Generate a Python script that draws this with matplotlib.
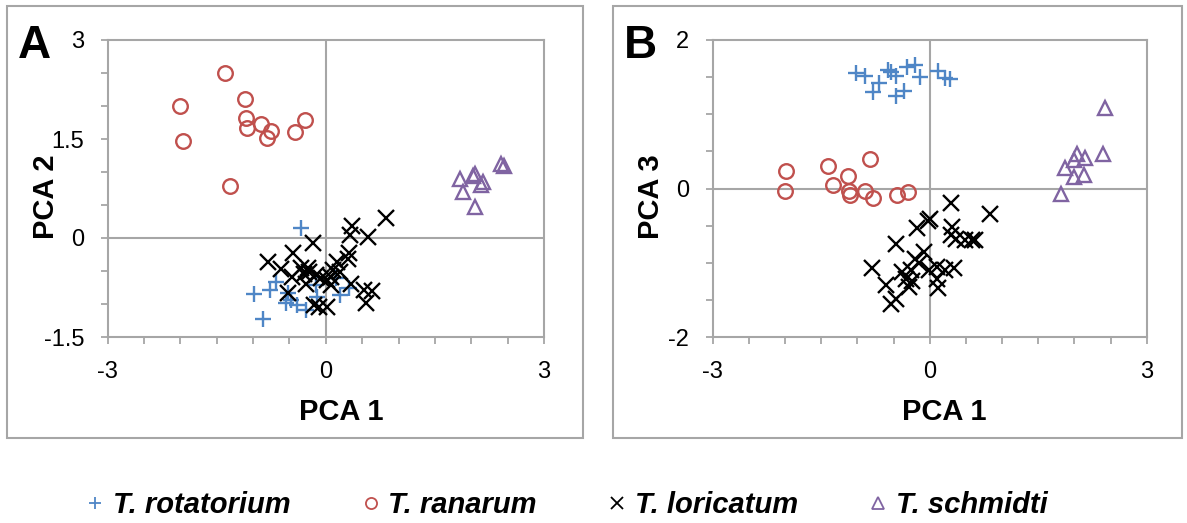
import numpy as np
import matplotlib
matplotlib.use("Agg")
import matplotlib.pyplot as plt
from matplotlib.patches import Rectangle

plt.rcParams["font.family"] = ["Liberation Sans", "DejaVu Sans"]

# ---- data ----
species = ["T. rotatorium", "T. ranarum", "T. loricatum", "T. schmidti"]

# panel A: PCA 1 vs PCA 2
rot_a_x = [-0.34, -0.99, -0.87, -0.77, -0.68, -0.55, -0.48, -0.39, -0.27, -0.52, -0.12, -0.14, 0.14, 0.20, 0.32]
rot_a_y = [0.15, -0.85, -1.22, -0.79, -0.66, -0.99, -0.94, -1.02, -1.09, -0.84, -0.89, -0.71, -0.61, -0.86, -0.76]
ran_a_x = [-1.39, -2.00, -1.11, -1.10, -1.08, -0.89, -0.76, -0.81, -0.42, -0.28, -1.96, -1.32]
ran_a_y = [2.50, 2.00, 2.11, 1.82, 1.67, 1.73, 1.62, 1.51, 1.60, 1.79, 1.47, 0.79]
lor_a_x = [0.83, 0.36, 0.33, 0.58, -0.17, -0.45, -0.80, 0.32, 0.30, 0.15, -0.61, -0.34, -0.25, -0.23, -0.30, -0.14,
           -0.46, -0.07, 0.02, 0.07, 0.10, 0.20, -0.27, 0.07, 0.34, -0.52, 0.52, 0.64, 0.55, -0.16, 0.02, -0.09]
lor_a_y = [0.30, 0.18, 0.05, 0.02, -0.08, -0.22, -0.37, -0.22, -0.32, -0.37, -0.47, -0.46, -0.46, -0.51, -0.54, -0.56,
           -0.59, -0.61, -0.64, -0.59, -0.48, -0.51, -0.69, -0.71, -0.69, -0.84, -0.79, -0.80, -0.99, -1.02, -1.04, -1.04]
sch_a_x = [2.41, 2.45, 1.84, 2.03, 2.05, 1.89, 2.14, 2.16, 2.05]
sch_a_y = [1.12, 1.09, 0.89, 0.94, 0.97, 0.70, 0.81, 0.85, 0.47]

# panel B: PCA 1 vs PCA 3
rot_b_x = [-1.02, -0.89, -0.70, -0.79, -0.57, -0.53, -0.46, -0.47, -0.36, -0.32, -0.21, -0.14, 0.12, 0.21, 0.28]
rot_b_y = [1.56, 1.51, 1.42, 1.30, 1.60, 1.57, 1.51, 1.25, 1.31, 1.63, 1.66, 1.50, 1.58, 1.49, 1.47]
ran_b_x = [-1.99, -2.00, -1.41, -1.34, -1.13, -1.11, -1.10, -0.90, -0.83, -0.79, -0.45, -0.30]
ran_b_y = [0.24, -0.03, 0.30, 0.05, 0.17, -0.04, -0.09, -0.03, 0.40, -0.13, -0.09, -0.05]
lor_b_x = [0.29, 0.83, 0.01, -0.02, -0.17, 0.31, 0.29, 0.37, 0.49, 0.58, 0.63, -0.47, -0.08, -0.20, -0.15,
           -0.80, 0.10, 0.33, 0.21, -0.38, -0.26, -0.01, -0.33, -0.24, 0.10, -0.61, -0.28, 0.11, -0.47, -0.54]
lor_b_y = [-0.20, -0.35, -0.41, -0.44, -0.53, -0.52, -0.63, -0.68, -0.70, -0.69, -0.70, -0.75, -0.86, -0.95, -1.01,
           -1.07, -1.06, -1.07, -1.10, -1.13, -1.10, -1.10, -1.22, -1.24, -1.22, -1.30, -1.32, -1.34, -1.49, -1.55]
sch_b_x = [2.43, 2.40, 2.03, 2.15, 2.00, 1.87, 2.13, 2.00, 1.82]
sch_b_y = [1.09, 0.46, 0.46, 0.41, 0.38, 0.27, 0.18, 0.15, -0.07]

xtick_labels = ["-3", "0", "3"]
ytick_labels_a = ["-1.5", "0", "1.5", "3"]
ytick_labels_b = ["-2", "0", "2"]

# ---- styles ----
GRAY = "#a6a6a6"
styles = [
    dict(marker="+", color="#4f86c6", ms=12, mew=1.7, mfc="none"),
    dict(marker="o", color="#c0504d", ms=10.5, mew=1.7, mfc="none"),
    dict(marker="x", color="black", ms=11.5, mew=1.7, mfc="none"),
    dict(marker="^", color="#8064a2", ms=10.5, mew=1.7, mfc="none"),
]

W, H = 1187, 523
fig = plt.figure(figsize=(W / 100, H / 100), dpi=100)


def fx(px):
    return px / W


def fy(py):
    return 1 - py / H


def panel(left, right, xs, ys, ylim, ylabels, ylab, letter, box):
    # frame around the whole panel
    bx0, by0, bx1, by1 = box
    fig.patches.append(Rectangle((fx(bx0), fy(by1)), fx(bx1 - bx0), (by1 - by0) / H,
                                 transform=fig.transFigure, fill=False, ec=GRAY, lw=1.5))
    ax = fig.add_axes([fx(left), fy(337), fx(right - left), (337 - 40) / H])
    for s, x, y in zip(styles, xs, ys):
        ax.plot(x, y, linestyle="none", **s)
    ax.set_xlim(-3, 3)
    ax.set_ylim(*ylim)
    ax.axhline(0, color=GRAY, lw=1.5, zorder=0)
    ax.axvline(0, color=GRAY, lw=1.5, zorder=0)
    for sp in ax.spines.values():
        sp.set_color(GRAY)
        sp.set_linewidth(1.5)
    xt = np.arange(-3, 3.01, 0.5)
    ax.set_xticks(xt)
    ax.set_xticklabels([xtick_labels[[-3, 0, 3].index(v)] if v in (-3, 0, 3) else "" for v in xt])
    yt = np.arange(ylim[0], ylim[1] + 0.01, 0.5)
    ylab_vals = [float(v) for v in ylabels]
    ax.set_yticks(yt)
    ax.set_yticklabels([ylabels[ylab_vals.index(v)] if v in ylab_vals else "" for v in yt])
    ax.tick_params(length=5, width=1.3, color=GRAY, labelsize=17, pad=12)
    fig.text(fx(left - 62), fy(197), ylab, rotation=90, ha="center", va="center",
             fontsize=21, fontweight="bold")
    fig.text(fx((left + right) / 2 + 15), fy(412), "PCA 1", ha="center", va="center",
             fontsize=21, fontweight="bold")
    fig.text(fx(bx0 + 11), fy(58), letter, ha="left", va="baseline", fontsize=33, fontweight="bold")
    return ax


ax_a = panel(107.7, 544, [rot_a_x, ran_a_x, lor_a_x, sch_a_x], [rot_a_y, ran_a_y, lor_a_y, sch_a_y],
             (-1.5, 3), ytick_labels_a, "PCA 2", "A", (7, 6, 583, 438))
ax_b = panel(712.7, 1146.7, [rot_b_x, ran_b_x, lor_b_x, sch_b_x], [rot_b_y, ran_b_y, lor_b_y, sch_b_y],
             (-2, 2), ytick_labels_b, "PCA 3", "B", (613, 6, 1182, 438))

handles = [plt.Line2D([], [], linestyle="none", marker=s["marker"], color=s["color"],
                      ms=8, mew=1.3, mfc="none") for s in styles]
fig.legend(handles, species, loc="center", bbox_to_anchor=(fx(567), fy(505)), ncol=4,
           frameon=False, handlelength=0.6, handletextpad=0.3, columnspacing=2.46,
           prop=dict(size=21, weight="bold", style="italic"))

fig.savefig("out.png", dpi=100)
